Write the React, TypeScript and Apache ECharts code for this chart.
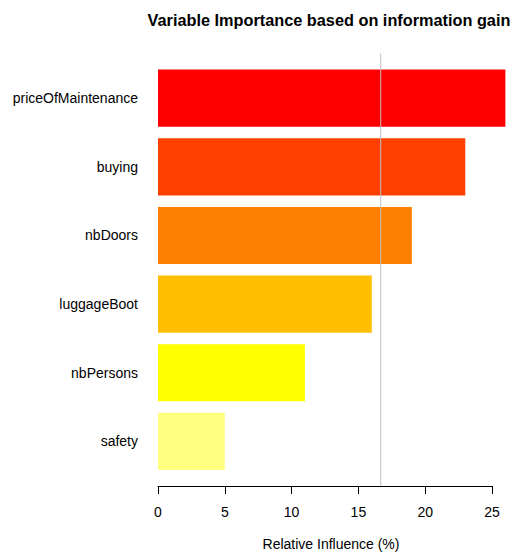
import React, { useEffect, useRef } from "react";
import * as echarts from "echarts";

const categories = ["priceOfMaintenance", "buying", "nbDoors", "luggageBoot", "nbPersons", "safety"];
const influenceValues = [26, 23, 19, 16, 11, 5];
const barColors = ["#FF0000", "#FF4000", "#FF8000", "#FFBF00", "#FFFF00", "#FFFF80"];
const meanInfluence = 16.67;
const xTicks = [0, 5, 10, 15, 20, 25];

const FONT = "Liberation Sans, Arial, Helvetica, sans-serif";

export default function App() {
  const ref = useRef<HTMLDivElement>(null);
  useEffect(() => {
    if (!ref.current) return;
    const chart = echarts.init(ref.current, null, { renderer: "svg" });
    chart.setOption({
      animation: false,
      backgroundColor: "#ffffff",
      title: [
        {
          text: "Variable Importance based on information gain",
          left: 329,
          top: 12,
          padding: 0,
          textAlign: "center",
          textStyle: { fontFamily: FONT, fontSize: 16.3, fontWeight: "bold", color: "#000000" },
        },
        {
          text: "Relative Influence (%)",
          left: 331,
          top: 537,
          padding: 0,
          textAlign: "center",
          textStyle: { fontFamily: FONT, fontSize: 14, fontWeight: "normal", color: "#000000" },
        },
      ],
      grid: [
        { left: 158, width: 334, top: 63.9, height: 411.8 },
        { left: 158, width: 334, top: 53.4, height: 432.6 },
      ],
      xAxis: [
        { type: "value", gridIndex: 0, min: 0, max: 25, interval: 5, show: false },
        {
          type: "value",
          gridIndex: 1,
          min: xTicks[0],
          max: xTicks[xTicks.length - 1],
          interval: 5,
          splitLine: { show: false },
          axisLine: { show: true, lineStyle: { color: "#000000", width: 1 } },
          axisTick: { show: true, length: 8, lineStyle: { color: "#000000", width: 1 } },
          axisLabel: { margin: 19, fontFamily: FONT, fontSize: 14, color: "#000000" },
        },
      ],
      yAxis: [
        {
          type: "category",
          gridIndex: 0,
          inverse: true,
          data: categories,
          axisLine: { show: false },
          axisTick: { show: false },
          splitLine: { show: false },
          axisLabel: { margin: 20, fontFamily: FONT, fontSize: 14, color: "#000000" },
        },
        { type: "value", gridIndex: 1, min: 0, max: 1, show: false },
      ],
      series: [
        {
          type: "bar",
          xAxisIndex: 0,
          yAxisIndex: 0,
          clip: false,
          barCategoryGap: "16.67%",
          data: influenceValues.map((v, i) => ({ value: v, itemStyle: { color: barColors[i] } })),
        },
        {
          type: "line",
          xAxisIndex: 1,
          yAxisIndex: 1,
          symbol: "none",
          z: 5,
          lineStyle: { color: "#BEBEBE", width: 1 },
          data: [
            [meanInfluence, 0],
            [meanInfluence, 1],
          ],
        },
      ],
    });
    return () => chart.dispose();
  }, []);
  return <div ref={ref} style={{ position: "fixed", left: 0, top: 0, width: 515, height: 552 }} />;
}
